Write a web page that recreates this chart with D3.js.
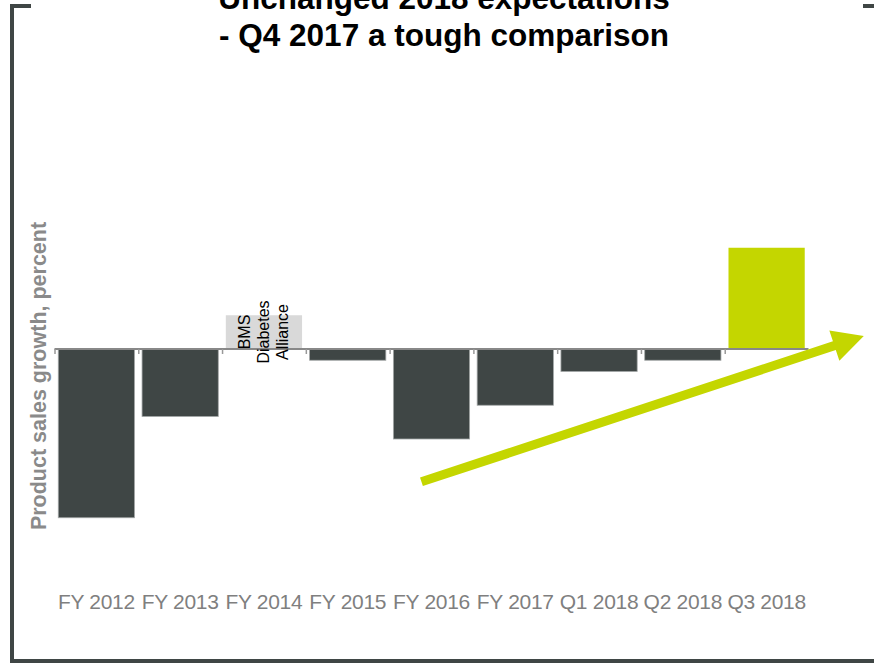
<!DOCTYPE html>
<html>
<head>
<meta charset="utf-8">
<script src="https://cdn.jsdelivr.net/npm/d3@7"></script>
<style>
  html, body { margin: 0; padding: 0; background: #fff; }
  svg { display: block; font-family: "Liberation Sans", Arial, sans-serif; }
</style>
</head>
<body>
<svg id="chart" width="874" height="665"></svg>
<script>
// Product sales growth by period, percent
const categories = ["FY 2012", "FY 2013", "FY 2014", "FY 2015", "FY 2016", "FY 2017", "Q1 2018", "Q2 2018", "Q3 2018"];
const growth = [-15, -6, 3, -1, -8, -5, -2, -1, 9];
const barKinds = ["decline", "decline", "alliance", "decline", "decline", "decline", "decline", "decline", "growth"];
const allianceLabel = ["BMS", "Diabetes", "Alliance"];
const titleLines = ["Unchanged 2018 expectations", "- Q4 2017 a tough comparison"];
const yAxisTitle = "Product sales growth, percent";
// trend arrow, in (category index, percent) units
const trendArrow = [[4.38, -11.8], [9.66, 1.16]];

const colors = { decline: "#3f4645", alliance: "#d9d9d9", growth: "#c4d600", frame: "#3f4645" };

const svg = d3.select("#chart");

const x = d3.scaleBand().domain(categories).range([54.5, 808.5]).paddingInner(0.09).paddingOuter(0.045);
const xi = d3.scaleLinear().domain([0, categories.length]).range([54.5, 808.5]);
const y = d3.scaleLinear().domain([-16, 10]).range([529, 236.5]);

// frame
const frame = svg.append("g").attr("fill", colors.frame);
frame.append("rect").attr("x", 10).attr("y", 4).attr("width", 4).attr("height", 659);
frame.append("rect").attr("x", 10).attr("y", 4).attr("width", 21).attr("height", 4);
frame.append("rect").attr("x", 10).attr("y", 659).attr("width", 864).attr("height", 4);
frame.append("rect").attr("x", 863).attr("y", 4).attr("width", 11).attr("height", 4);

// title (first line runs off the top edge)
svg.append("g").selectAll("text").data(titleLines).join("text")
  .attr("x", 444).attr("y", (d, i) => 9 + i * 37)
  .attr("text-anchor", "middle")
  .attr("font-size", 31.5).attr("font-weight", "bold").attr("fill", "#000")
  .text(d => d);

// y axis title
svg.append("text")
  .attr("transform", "translate(46,376) rotate(-90)")
  .attr("text-anchor", "middle")
  .attr("font-size", 21.5).attr("font-weight", "bold").attr("fill", "#8a8a8a")
  .text(yAxisTitle);

// bars
const data = categories.map((c, i) => ({ cat: c, v: growth[i], kind: barKinds[i] }));
svg.append("g").selectAll("rect").data(data).join("rect")
  .attr("x", d => x(d.cat))
  .attr("width", x.bandwidth())
  .attr("y", d => Math.min(y(0), y(d.v)))
  .attr("height", d => Math.abs(y(d.v) - y(0)))
  .attr("fill", d => colors[d.kind])
  .attr("stroke", d => d.kind === "decline" ? "#a3a7a7" : "none")
  .attr("stroke-width", 0.8);

// zero axis with ticks at category boundaries
const axis = svg.append("g").attr("transform", `translate(0,${y(0)})`)
  .call(d3.axisBottom(xi).tickValues(d3.range(categories.length)).tickSize(5).tickFormat(""));
axis.select(".domain").attr("stroke", "#888").attr("stroke-width", 2).attr("d", `M${xi(0)},0H${xi(categories.length)}`);
axis.selectAll(".tick line").attr("stroke", "#999").attr("stroke-width", 1.5);

// category labels
svg.append("g").selectAll("text").data(categories).join("text")
  .attr("x", d => x(d) + x.bandwidth() / 2)
  .attr("y", 609)
  .attr("text-anchor", "middle")
  .attr("font-size", 21).attr("fill", "#7f7f7f")
  .attr("letter-spacing", -0.3)
  .text(d => d);

// alliance label inside the FY 2014 bar
const ai = barKinds.indexOf("alliance");
const acx = x(categories[ai]) + x.bandwidth() / 2;
svg.append("g").selectAll("text").data(allianceLabel).join("text")
  .attr("transform", (d, i) => `translate(${acx + (i - 1) * 19},332) rotate(-90)`)
  .attr("text-anchor", "middle").attr("dominant-baseline", "central")
  .attr("font-size", 16).attr("fill", "#000")
  .text(d => d);

// trend arrow
const [p0, p1] = trendArrow.map(([i, v]) => [xi(i), y(v)]);
const ang = Math.atan2(p1[1] - p0[1], p1[0] - p0[0]);
const headLen = 31, headHalf = 16, shaftHalf = 4.6;
const ux = Math.cos(ang), uy = Math.sin(ang), nx = -uy, ny = ux;
const base = [p1[0] - ux * headLen, p1[1] - uy * headLen];
const pts = [
  [p0[0] + nx * shaftHalf, p0[1] + ny * shaftHalf],
  [base[0] + nx * shaftHalf, base[1] + ny * shaftHalf],
  [base[0] + nx * headHalf, base[1] + ny * headHalf],
  p1,
  [base[0] - nx * headHalf, base[1] - ny * headHalf],
  [base[0] - nx * shaftHalf, base[1] - ny * shaftHalf],
  [p0[0] - nx * shaftHalf, p0[1] - ny * shaftHalf]
];
svg.append("path").attr("d", d3.line()(pts) + "Z").attr("fill", colors.growth);
</script>
</body>
</html>
